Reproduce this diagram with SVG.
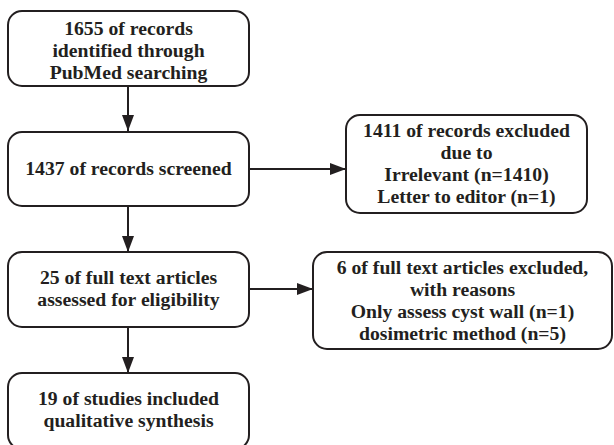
<svg xmlns="http://www.w3.org/2000/svg" width="614" height="445" viewBox="0 0 614 445">
<defs>
<style>
.box{fill:#fff;stroke:#231f20;stroke-width:2}
.t{font-family:"Liberation Serif","Times New Roman",serif;font-weight:bold;font-size:19.7px;fill:#231f20;text-anchor:middle}
.c{stroke:#231f20;stroke-width:2;fill:none}
</style>
<marker id="ah" viewBox="0 0 16 12" refX="16" refY="6" markerWidth="16" markerHeight="12" markerUnits="userSpaceOnUse" orient="auto">
<path d="M0,0 L16,6 L0,12 z" fill="#231f20"/>
</marker>
</defs>
<rect width="614" height="445" fill="#fff"/>
<g id="connectors">
<line class="c" x1="128" y1="86" x2="128" y2="131" marker-end="url(#ah)"/>
<line class="c" x1="249" y1="169" x2="346" y2="169" marker-end="url(#ah)"/>
<line class="c" x1="128" y1="206" x2="128" y2="252" marker-end="url(#ah)"/>
<line class="c" x1="249" y1="289" x2="313" y2="289" marker-end="url(#ah)"/>
<line class="c" x1="128" y1="327" x2="128" y2="373" marker-end="url(#ah)"/>
</g>
<g id="n1">
<rect class="box" x="8" y="11" width="241" height="75" rx="14"/>
<text class="t" x="128.5" y="35">1655 of records</text>
<text class="t" x="128.5" y="57">identified through</text>
<text class="t" x="128.5" y="79">PubMed searching</text>
</g>
<g id="n2">
<rect class="box" x="8" y="132" width="241" height="74" rx="14"/>
<text class="t" x="128.5" y="175">1437 of records screened</text>
</g>
<g id="n3">
<rect class="box" x="346" y="115" width="241" height="98" rx="14"/>
<text class="t" x="466.5" y="137">1411 of records excluded</text>
<text class="t" x="466.5" y="159">due to</text>
<text class="t" x="466.5" y="181">Irrelevant (n=1410)</text>
<text class="t" x="466.5" y="203">Letter to editor (n=1)</text>
</g>
<g id="n4">
<rect class="box" x="8" y="252" width="241" height="75" rx="14"/>
<text class="t" x="128.5" y="284">25 of full text articles</text>
<text class="t" x="128.5" y="306">assessed for eligibility</text>
</g>
<g id="n5">
<rect class="box" x="313" y="252" width="299" height="97" rx="14"/>
<text class="t" x="462.5" y="274">6 of full text articles excluded,</text>
<text class="t" x="462.5" y="296">with reasons</text>
<text class="t" x="462.5" y="318">Only assess cyst wall (n=1)</text>
<text class="t" x="462.5" y="340">dosimetric method (n=5)</text>
</g>
<g id="n6">
<rect class="box" x="8" y="373" width="241" height="76" rx="14"/>
<text class="t" x="128.5" y="405">19 of studies included</text>
<text class="t" x="128.5" y="427">qualitative synthesis</text>
</g>
</svg>
